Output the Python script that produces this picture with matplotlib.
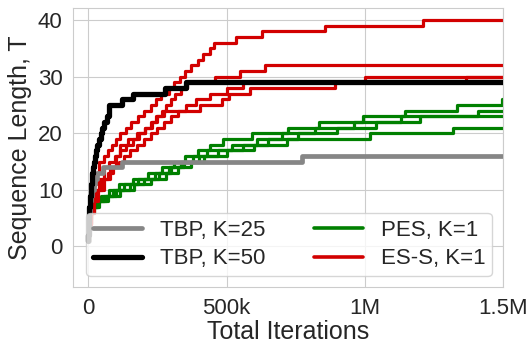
import numpy as np
import matplotlib

matplotlib.use("Agg")
import matplotlib.pyplot as plt
import seaborn as sns

# step curves: breakpoints as (iterations in thousands, sequence length T)
TBP25_IT = [0, 2, 4, 7, 10, 14, 19, 25, 30, 54, 120, 773]
TBP25_T = [1, 4, 6, 8, 9, 10, 11, 12, 13, 14, 15, 16]

TBP50_IT = [0, 0.5, 1, 1.5, 2, 3, 4, 5, 6, 8, 10, 12, 14, 17, 20, 24, 28, 33, 38, 44, 50, 58, 66, 74,
            120, 163, 278, 355]
TBP50_T = [1, 2, 3, 4, 5, 6, 7, 8, 9, 10, 11, 12, 13, 14, 15, 16, 17, 18, 19, 20, 21, 22, 23, 25,
           26, 27, 28, 29]

PES_RUNS = [
    ([0, 2, 5, 12, 25, 45, 75, 110, 160, 215, 265, 310, 350, 395, 440, 488, 592, 723, 835, 995, 1146, 1333, 1496],
     [1, 4, 6, 7, 8, 9, 10, 11, 12, 13, 14, 15, 16, 17, 18, 19, 20, 21, 22, 23, 24, 25, 26]),
    ([0, 2, 6, 15, 30, 55, 90, 130, 180, 240, 290, 335, 380, 430, 520, 610, 700, 820, 960, 1130, 1410],
     [1, 4, 6, 7, 8, 9, 10, 11, 12, 13, 14, 15, 16, 17, 18, 19, 20, 21, 22, 23, 24]),
    ([0, 3, 7, 18, 35, 65, 100, 150, 200, 255, 300, 345, 400, 470, 560, 650, 760, 900, 1040, 1200],
     [1, 4, 6, 7, 8, 9, 10, 11, 12, 13, 14, 15, 16, 17, 18, 19, 20, 21, 22, 23]),
    ([0, 3, 8, 20, 40, 70, 115, 165, 225, 280, 325, 370, 420, 500, 600, 720, 1020, 1320],
     [1, 4, 6, 7, 8, 9, 10, 11, 12, 13, 14, 15, 16, 17, 18, 19, 20, 21]),
]

ESS_RUNS = [
    ([0, 2, 5, 9, 14, 20, 28, 40, 55, 70, 85, 100, 115, 135, 155, 180, 200, 225, 245, 262, 290, 310, 330, 350, 370,
      395, 415, 440, 455, 535, 628, 857, 1212],
     [1, 3, 5, 7, 9, 11, 13, 15, 16, 17, 18, 19, 20, 21, 22, 23, 24, 25, 26, 27, 28, 29, 30, 31, 32,
      33, 34, 35, 36, 37, 38, 39, 40]),
    ([0, 3, 8, 15, 25, 38, 55, 75, 95, 115, 135, 160, 185, 205, 225, 245, 265, 280, 300, 315, 335, 357, 459, 549, 640],
     [1, 4, 6, 8, 10, 12, 14, 15, 16, 17, 18, 19, 20, 21, 22, 23, 24, 25, 26, 27, 28, 29, 30, 31, 32]),
    ([0, 4, 10, 20, 35, 55, 80, 100, 115, 145, 175, 205, 230, 250, 275, 405, 484, 510, 586, 893, 1367],
     [1, 4, 6, 8, 10, 12, 14, 16, 18, 19, 20, 21, 22, 23, 24, 25, 26, 27, 28, 29, 30]),
    ([0, 3, 9, 18, 30, 48, 70, 90, 110, 130, 150, 175, 200, 225, 250, 275, 300, 325, 355, 390, 440, 500, 560, 1002],
     [1, 4, 6, 8, 10, 12, 13, 14, 15, 16, 17, 18, 19, 20, 21, 22, 23, 24, 25, 26, 27, 28, 29, 30]),
]

X_TICKS = [0, 500_000, 1_000_000, 1_500_000]
X_LABELS = ["0", "500k", "1M", "1.5M"]
X_END = 1_500_000


def steps(ax, its, ts, **kw):
    x = np.append(np.asarray(its, float) * 1e3, X_END)
    y = np.append(ts, ts[-1])
    return ax.plot(x, y, drawstyle="steps-post", **kw)[0]


sns.set_style("whitegrid")
plt.rcParams["font.family"] = ["Liberation Sans", "DejaVu Sans"]

fig = plt.figure(figsize=(5.3, 3.44), dpi=100)
ax = fig.add_axes([0.138, 0.165, 0.811, 0.811])

green, red = "#008000", "#d20000"
for its, ts in PES_RUNS:
    h_pes = steps(ax, its, ts, color=green, lw=2.3, zorder=2)
for its, ts in ESS_RUNS:
    h_ess = steps(ax, its, ts, color=red, lw=2.3, zorder=2.1)
h25 = steps(ax, TBP25_IT, TBP25_T, color="#868686", lw=3.4, zorder=3)
h50 = steps(ax, TBP50_IT, TBP50_T, color="black", lw=3.8, zorder=3.1)

ax.set_xlim(-55_000, X_END)
ax.set_ylim(-7.2, 42.1)
ax.set_xticks(X_TICKS)
ax.set_xticklabels(X_LABELS)
ax.set_yticks([0, 10, 20, 30, 40])
ax.tick_params(labelsize=16, colors="#262626", pad=4)
ax.set_xlabel("Total Iterations", fontsize=18, color="#262626", labelpad=1)
ax.set_ylabel("Sequence Length, T", fontsize=18, color="#262626", labelpad=4)
for s in ax.spines.values():
    s.set_color("#cccccc")

leg = ax.legend(
    [h25, h50, h_pes, h_ess],
    ["TBP, K=25", "TBP, K=50", "PES, K=1", "ES-S, K=1"],
    ncol=2, loc="lower right", fontsize=16, framealpha=0.8,
    handlelength=2.2, columnspacing=2.2, borderpad=0.3, labelspacing=0.35,
)
for line, lw in zip(leg.get_lines(), [3.4, 3.8, 2.6, 2.6]):
    line.set_linewidth(lw)

fig.savefig("out.png", dpi=100)
